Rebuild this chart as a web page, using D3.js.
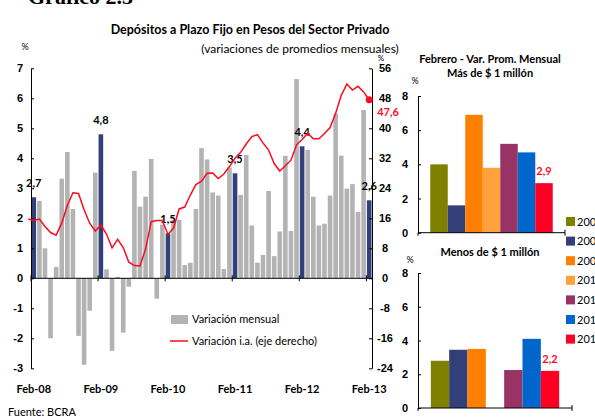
<!DOCTYPE html>
<html>
<head>
<meta charset="utf-8">
<script src="https://cdnjs.cloudflare.com/ajax/libs/d3/7.8.5/d3.min.js"></script>
<style>
  body { margin: 0; background: #fff; }
  svg { display: block; font-family: Lato, "Open Sans", sans-serif; }
</style>
</head>
<body>
<svg width="595" height="420"></svg>
<script>
// monthly change (%), Feb-08 .. Feb-13
const monthly = [
  2.7, 2.58, 1.0, -2.0, 0.38, 3.32, 4.21, 2.31, -1.92, -2.88, -1.08, 3.52,
  4.8, 0.3, -2.42, 0.05, -1.81, -0.28, 3.58, 2.39, 2.72, 3.98, -0.68, 1.79,
  1.5, 1.95, 1.95, 0.44, 0.52, 2.31, 4.34, 3.96, 2.86, 2.76, 0.31, 3.69,
  3.5, 2.78, 4.11, 1.76, 0.52, 0.78, 2.91, 0.74, 1.56, 4.08, 1.58, 6.64,
  4.4, 4.28, 2.72, 1.76, 1.82, 2.76, 5.49, 4.09, 2.99, 3.14, 2.21, 5.61,
  2.6
];
// year-on-year change (%, right axis), Jan-08 .. Feb-13
const yoy = [
  15.8,
  15.4, 15.8, 13.8, 12.2, 11.5, 14.7, 19.4, 22.8, 22.6, 18.3, 14.7, 12.6,
  14.2, 11.8, 8.1, 10.4, 8.2, 4.3, 3.4, 3.3, 7.8, 15.1, 15.4, 15.4,
  11.7, 13.4, 18.5, 19.0, 22.2, 25.0, 25.9, 28.0, 28.1, 26.6, 27.8, 29.8,
  32.0, 33.6, 35.8, 37.8, 38.3, 36.1, 34.2, 30.6, 28.6, 30.0, 31.5, 35.6,
  37.0, 38.7, 37.2, 37.2, 38.6, 40.2, 44.0, 48.8, 51.8, 50.2, 51.2, 49.7,
  47.6
];
const yearTicks = ["Feb-08", "Feb-09", "Feb-10", "Feb-11", "Feb-12", "Feb-13"];
const febLabels = ["2,7", "4,8", "1,5", "3,5", "4,4", "2,6"];

const years = ["2007", "2008", "2009", "2010", "2011", "2012", "2013"];
const overMillion = [4.0, 1.6, 6.9, 3.8, 5.2, 4.7, 2.9];
const underMillion = [2.8, 3.45, 3.5, null, 2.25, 4.1, 2.2];
const yearColors = ["#808000", "#333f78", "#ff8000", "#ffa23c", "#993366", "#0066cc", "#ff0022"];

const svg = d3.select('svg');
const gray = '#b3b3b3';
const navy = '#333f78';
const red = '#ff0a1e';
const plain = d => String(d);   // hyphen minus, like the original

// titles
svg.append('text').attr('x', 28).attr('y', 4)
  .style('font-family', '"Liberation Serif", serif').style('font-weight', 'bold')
  .style('font-size', '22px').text('Gráfico 2.5');
svg.append('text').attr('x', 250).attr('y', 34).attr('text-anchor', 'middle')
  .style('font-weight', 'bold').style('font-size', '12.5px')
  .text('Depósitos a Plazo Fijo en Pesos del Sector Privado');
svg.append('text').attr('x', 300).attr('y', 53).attr('text-anchor', 'middle')
  .style('font-size', '12px').text('(variaciones de promedios mensuales)');

// main chart
const x = d3.scaleLinear().domain([-0.5, 60.5]).range([31, 372]);
const y = d3.scaleLinear().domain([-3, 7]).range([368.3, 68.3]);
const yR = d3.scaleLinear().domain([-24, 56]).range([368.3, 68.3]);
const main = svg.append('g');

main.selectAll('rect.bar').data(monthly)
  .enter().append('rect')
    .attr('class', 'bar')
    .attr('x', (d, i) => x(i) - 2.3)
    .attr('width', 4.6)
    .attr('y', d => y(Math.max(d, 0)))
    .attr('height', d => Math.abs(y(d) - y(0)))
    .attr('fill', (d, i) => i % 12 === 0 ? navy : gray);

const leftAxis = main.append('g')
  .attr('transform', 'translate(31,0)')
  .call(d3.axisLeft(y).ticks(10).tickFormat(plain).tickSize(-3).tickSizeOuter(0).tickPadding(8));
const rightAxis = main.append('g')
  .attr('transform', 'translate(372,0)')
  .call(d3.axisRight(yR).tickValues(d3.range(-24, 57, 8)).tickFormat(plain)
    .tickSize(-3).tickSizeOuter(0).tickPadding(13));
rightAxis.selectAll('text').attr('text-anchor', 'middle');
[leftAxis, rightAxis].forEach(a => {
  a.selectAll('text').style('font-size', '11px').style('font-weight', 'bold').attr('fill', '#000');
  a.selectAll('line,path').attr('stroke', '#000');
});

// x axis at zero
main.append('line').attr('x1', 31).attr('x2', 372)
  .attr('y1', y(0)).attr('y2', y(0)).attr('stroke', '#000');
main.selectAll('line.xt').data(yearTicks)
  .enter().append('line')
    .attr('class', 'xt')
    .attr('x1', (d, i) => x(i * 12 - 0.5)).attr('x2', (d, i) => x(i * 12 - 0.5))
    .attr('y1', y(0) - 3).attr('y2', y(0) + 3).attr('stroke', '#000');
main.selectAll('text.xl').data(yearTicks)
  .enter().append('text')
    .attr('class', 'xl')
    .attr('x', (d, i) => x(i * 12)).attr('y', 393)
    .attr('text-anchor', 'middle')
    .style('font-size', '11px').style('font-weight', 'bold')
    .text(d => d);

// labels over February bars
main.selectAll('text.fl').data(febLabels)
  .enter().append('text')
    .attr('class', 'fl')
    .attr('x', (d, i) => x(i * 12))
    .attr('y', (d, i) => y(monthly[i * 12]) - 10)
    .attr('text-anchor', 'middle')
    .style('font-size', '11px').style('font-weight', 'bold')
    .text(d => d);

// y.o.y line (starts at Jan-08)
const line = d3.line().x((d, i) => x(i - 1)).y(d => yR(d));
main.append('path').datum(yoy)
  .attr('d', line).attr('fill', 'none')
  .attr('stroke', red).attr('stroke-width', 1.5);
main.append('circle')
  .attr('cx', x(60)).attr('cy', yR(yoy[yoy.length - 1])).attr('r', 3.5).attr('fill', red);
main.append('text').attr('x', 388).attr('y', 116).attr('text-anchor', 'middle')
  .style('font-size', '11px').style('font-weight', 'bold').attr('fill', red).text('47,6');

main.append('text').attr('x', 25).attr('y', 50).attr('text-anchor', 'middle')
  .style('font-size', '9px').text('%');
main.append('text').attr('x', 381).attr('y', 61).attr('text-anchor', 'middle')
  .style('font-size', '8px').text('%');

// legend
const legend = main.append('g');
legend.append('rect').attr('x', 171).attr('y', 315).attr('width', 17).attr('height', 9).attr('fill', gray);
legend.append('text').attr('x', 192).attr('y', 323).style('font-size', '11px').text('Variación mensual');
legend.append('line').attr('x1', 170).attr('x2', 188).attr('y1', 341).attr('y2', 341)
  .attr('stroke', red).attr('stroke-width', 1.5);
legend.append('text').attr('x', 192).attr('y', 345).style('font-size', '11px').text('Variación i.a. (eje derecho)');

svg.append('text').attr('x', 8).attr('y', 416).style('font-size', '11px').text('Fuente: BCRA');

// small charts on the right
const miniChart = (values, left, right, top, bottom) => {
  const g = svg.append('g');
  const xb = d3.scaleBand().domain(years).range([left, right]).paddingInner(0).paddingOuter(0.7);
  const yb = d3.scaleLinear().domain([0, 8]).range([bottom, top]);
  g.selectAll('rect').data(values)
    .enter().append('rect')
      .attr('x', (d, i) => xb(years[i]))
      .attr('width', xb.bandwidth())
      .attr('y', d => yb(d || 0))
      .attr('height', d => yb(0) - yb(d || 0))
      .attr('fill', (d, i) => yearColors[i]);
  const ax = g.append('g').attr('transform', 'translate(' + left + ',0)')
    .call(d3.axisLeft(yb).tickValues([0, 2, 4, 6, 8]).tickSize(-3).tickSizeOuter(0).tickPadding(10));
  ax.selectAll('text').style('font-size', '11px').style('font-weight', 'bold').attr('fill', '#000');
  ax.selectAll('line,path').attr('stroke', '#000');
  g.append('line').attr('x1', left).attr('x2', right).attr('y1', yb(0)).attr('y2', yb(0)).attr('stroke', '#000');
  g.append('line').attr('x1', right).attr('x2', right).attr('y1', yb(0) - 3).attr('y2', yb(0) + 3).attr('stroke', '#000');
  g.append('line').attr('x1', left).attr('x2', left).attr('y1', yb(0)).attr('y2', yb(0) + 3).attr('stroke', '#000');
  const last = values.length - 1;
  g.append('text')
    .attr('x', xb(years[last]) + xb.bandwidth() / 2)
    .attr('y', yb(values[last]) - 8)
    .attr('text-anchor', 'middle')
    .style('font-size', '11px').style('font-weight', 'bold').attr('fill', red)
    .text(String(values[last]).replace('.', ','));
  return g;
};

miniChart(overMillion, 418, 565, 96, 232.7);
miniChart(underMillion, 418, 572, 273, 408);

svg.append('text').attr('x', 490).attr('y', 63).attr('text-anchor', 'middle')
  .style('font-size', '11px').style('font-weight', 'bold').text('Febrero - Var. Prom. Mensual');
svg.append('text').attr('x', 490).attr('y', 77).attr('text-anchor', 'middle')
  .style('font-size', '11px').style('font-weight', 'bold').text('Más de $ 1 millón');
svg.append('text').attr('x', 415).attr('y', 84).attr('text-anchor', 'middle')
  .style('font-size', '9px').text('%');
svg.append('text').attr('x', 490).attr('y', 256).attr('text-anchor', 'middle')
  .style('font-size', '11px').style('font-weight', 'bold').text('Menos de $ 1 millón');
svg.append('text').attr('x', 410).attr('y', 263).attr('text-anchor', 'middle')
  .style('font-size', '9px').text('%');

// year legend, partly cut by the page edge like the original
const yl = svg.append('g');
yl.selectAll('rect').data(years)
  .enter().append('rect')
    .attr('x', 566).attr('y', (d, i) => 217 + i * 19.6)
    .attr('width', 9).attr('height', 9)
    .attr('fill', (d, i) => yearColors[i]);
yl.selectAll('text').data(years)
  .enter().append('text')
    .attr('x', 577).attr('y', (d, i) => 225.5 + i * 19.6)
    .style('font-size', '11px')
    .text(d => d);
</script>
</body>
</html>
